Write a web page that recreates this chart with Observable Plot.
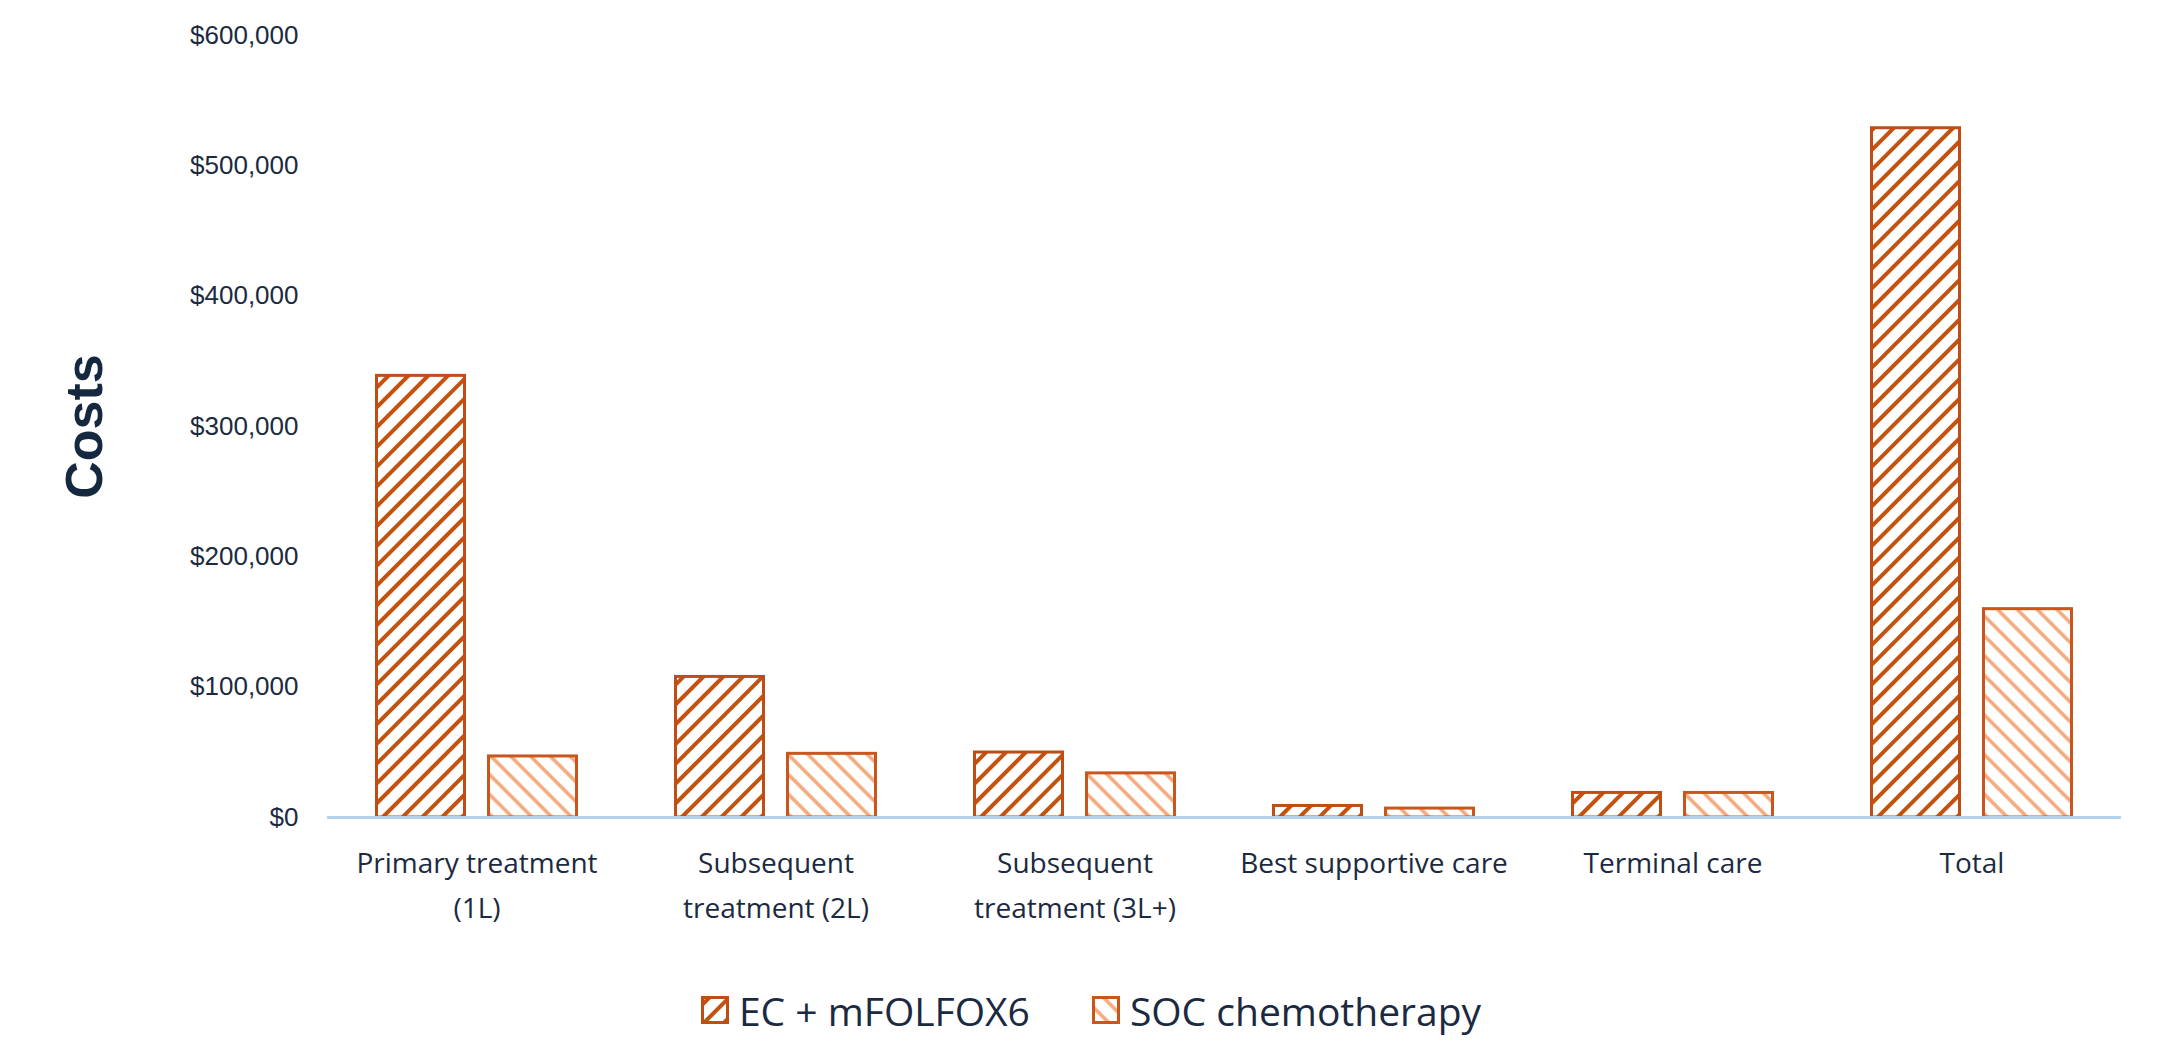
<!DOCTYPE html>
<html>
<head>
<meta charset="utf-8">
<script src="https://cdn.jsdelivr.net/npm/d3@7"></script>
<script src="https://cdn.jsdelivr.net/npm/@observablehq/plot@0.6"></script>
<style>
  html, body { margin: 0; padding: 0; background: #fff; }
  #wrap { width: 2160px; position: relative; }
  #legend { height: 90px; display: flex; align-items: center; justify-content: center;
            padding-left: 22px; box-sizing: border-box; width: 2160px;
            font-family: "Open Sans", sans-serif; font-size: 39px; color: #1b2a41; }
  .item { display: flex; align-items: center; }
  .item + .item { margin-left: 62px; }
  .item svg { margin-right: 10px; }
</style>
</head>
<body>
<div id="wrap"></div>
<script>
const categories = ["Primary treatment (1L)", "Subsequent treatment (2L)", "Subsequent treatment (3L+)", "Best supportive care", "Terminal care", "Total"];
const tickLabels = ["Primary treatment\n(1L)", "Subsequent\ntreatment (2L)", "Subsequent\ntreatment (3L+)", "Best supportive care", "Terminal care", "Total"];
const series = ["EC + mFOLFOX6", "SOC chemotherapy"];
const ecValues = [340000, 109000, 51000, 10000, 20000, 530000];
const socValues = [48000, 50000, 35000, 8000, 20000, 161000];
const yTicks = [0, 100000, 200000, 300000, 400000, 500000, 600000];

const rows = [];
categories.forEach((c, i) => {
  rows.push({category: c, series: series[0], value: ecValues[i]});
  rows.push({category: c, series: series[1], value: socValues[i]});
});

const labelOf = new Map(categories.map((c, i) => [c, tickLabels[i]]));
const fillOf = new Map([[series[0], "url(#hatchEC)"], [series[1], "url(#hatchSOC)"]]);
const strokeOf = new Map([[series[0], "#bf4d14"], [series[1], "#c9561c"]]);

const chart = Plot.plot({
  width: 2160,
  height: 965,
  marginLeft: 325,
  marginRight: 38,
  marginTop: 35,
  marginBottom: 148,
  style: {background: "#fff", color: "#1b2a41"},
  fx: {domain: categories, padding: 0, label: null},
  x: {domain: series, paddingInner: 0.186, paddingOuter: 0.418, axis: null},
  y: {domain: [0, 600000], label: null},
  marks: [
    Plot.barY(rows, {
      fx: "category", x: "series", y: "value",
      fill: d => fillOf.get(d.series),
      stroke: d => strokeOf.get(d.series),
      strokeWidth: 3,
      insetTop: 1.5, insetLeft: 1.5, insetRight: 1.5
    }),
    Plot.ruleY([0], {stroke: "#b7d0ec", strokeWidth: 3}),
    Plot.axisY(yTicks, {
      tickSize: 0, tickPadding: 29, fontSize: 26,
      fontFamily: "'Liberation Sans', Arial, sans-serif",
      fill: "#1b2a41",
      tickFormat: d => "$" + d3.format(",")(d),
      label: null
    }),
    Plot.axisY([], {
      label: "Costs", labelAnchor: "center", labelArrow: "none", labelOffset: 262,
      fontSize: 52, fontWeight: "bold", fill: "#14283f",
      fontFamily: "'Liberation Sans', Arial, sans-serif"
    }),
    Plot.axisFx({
      anchor: "bottom",
      tickSize: 0, tickPadding: 24, fontSize: 28, lineHeight: 1.6,
      fontFamily: "'Open Sans', sans-serif",
      fill: "#1b2a41",
      tickFormat: d => labelOf.get(d),
      label: null
    })
  ]
});

function addPatterns(svgNode, suffix) {
  const defs = d3.select(svgNode).insert("defs", ":first-child");
  const p1 = defs.append("pattern").attr("id", "hatchEC" + suffix)
    .attr("patternUnits", "userSpaceOnUse").attr("width", 14).attr("height", 14)
    .attr("patternTransform", "rotate(45)");
  p1.append("rect").attr("width", 14).attr("height", 14).attr("fill", "#fff");
  p1.append("line").attr("x1", 7).attr("y1", -2).attr("x2", 7).attr("y2", 16)
    .attr("stroke", "#c4520f").attr("stroke-width", 4);
  const p2 = defs.append("pattern").attr("id", "hatchSOC" + suffix)
    .attr("patternUnits", "userSpaceOnUse").attr("width", 14).attr("height", 14)
    .attr("patternTransform", "rotate(-45)");
  p2.append("rect").attr("width", 14).attr("height", 14).attr("fill", "#fff");
  p2.append("line").attr("x1", 7).attr("y1", -2).attr("x2", 7).attr("y2", 16)
    .attr("stroke", "#f3a97c").attr("stroke-width", 3.5);
}
addPatterns(chart, "");

const wrap = document.getElementById("wrap");
wrap.appendChild(chart);

const legend = document.createElement("div");
legend.id = "legend";
series.forEach((s, i) => {
  const item = document.createElement("div");
  item.className = "item";
  const sw = d3.create("svg").attr("width", 28).attr("height", 28);
  addPatterns(sw.node(), "lg" + i);
  sw.append("rect").attr("x", 1.5).attr("y", 1.5).attr("width", 25).attr("height", 25)
    .attr("fill", i === 0 ? `url(#hatchEClg${i})` : `url(#hatchSOClg${i})`)
    .attr("stroke", strokeOf.get(s)).attr("stroke-width", 3);
  item.appendChild(sw.node());
  const t = document.createElement("span");
  t.textContent = s;
  item.appendChild(t);
  legend.appendChild(item);
});
wrap.appendChild(legend);
</script>
</body>
</html>
